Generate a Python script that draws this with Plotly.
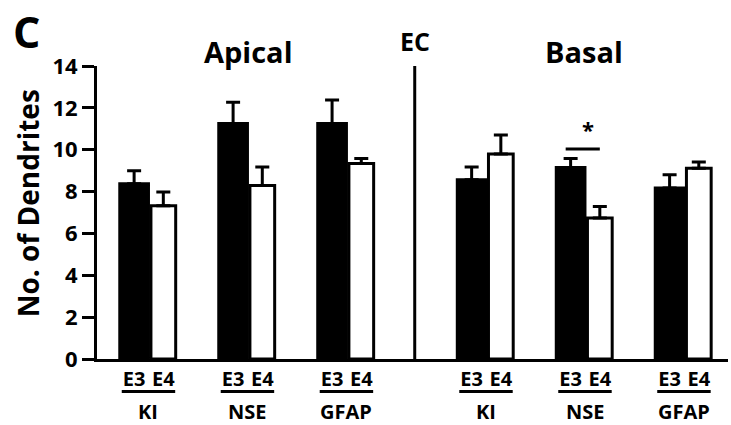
import plotly.graph_objects as go

# ---- data ----
regions = ["Apical", "Apical", "Apical", "Basal", "Basal", "Basal"]
groups = ["KI", "NSE", "GFAP", "KI", "NSE", "GFAP"]
e3_mean = [8.37, 11.25, 11.25, 8.56, 9.15, 8.17]
e3_sem = [0.63, 1.02, 1.13, 0.61, 0.43, 0.63]
e4_mean = [7.32, 8.29, 9.34, 9.80, 6.74, 9.12]
e4_sem = [0.66, 0.88, 0.24, 0.90, 0.55, 0.29]
tick_names = ["E3", "E4"]
y_ticks = [0, 2, 4, 6, 8, 10, 12, 14]
sig_group = 4  # NSE basal, E3 vs E4 significant

# ---- layout helpers ----
region_gap = 0.41
pos = [i + (region_gap if r == "Basal" else 0) for i, r in enumerate(regions)]
off3, off4 = -0.16, 0.135
x3 = [p + off3 for p in pos]
x4 = [p + off4 for p in pos]
divider_x = (pos[2] + pos[3]) / 2 - 0.03

FONT = "Open Sans"

fig = go.Figure()
fig.add_trace(go.Bar(
    x=x3, y=e3_mean, width=0.29, name="E3",
    marker=dict(color="black", line=dict(color="black", width=3)),
    error_y=dict(type="data", array=e3_sem, arrayminus=[0] * len(e3_sem),
                 symmetric=False, color="black", thickness=3, width=7),
))
fig.add_trace(go.Bar(
    x=x4, y=e4_mean, width=0.25, name="E4",
    marker=dict(color="white", line=dict(color="black", width=3)),
    error_y=dict(type="data", array=e4_sem, arrayminus=[0] * len(e4_sem),
                 symmetric=False, color="black", thickness=3, width=7),
))

tickvals, ticktext = [], []
for a, b in zip(x3, x4):
    tickvals += [a, b]
    ticktext += tick_names

shapes = []
annotations = []
# group underlines and names
for p, g in zip(pos, groups):
    shapes.append(dict(type="line", xref="x", yref="paper",
                       x0=p - 0.285, x1=p + 0.255, y0=-0.111, y1=-0.111,
                       line=dict(color="black", width=3)))
    annotations.append(dict(x=p - 0.015, y=-0.178, xref="x", yref="paper",
                            text=g, showarrow=False, xanchor="center", yanchor="middle",
                            font=dict(family=FONT, size=20, color="black", weight="bold")))
# divider
shapes.append(dict(type="line", xref="x", yref="y", x0=divider_x, x1=divider_x,
                   y0=0, y1=14, line=dict(color="black", width=3)))
# significance bar
sy = max(e3_mean[sig_group] + e3_sem[sig_group], e4_mean[sig_group] + e4_sem[sig_group]) + 0.46
shapes.append(dict(type="line", xref="x", yref="y",
                   x0=x3[sig_group] - 0.05, x1=x4[sig_group] + 0.0,
                   y0=sy, y1=sy, line=dict(color="black", width=3)))
annotations.append(dict(x=(x3[sig_group] + x4[sig_group]) / 2 + 0.03, y=sy + 0.15,
                        xref="x", yref="y", text="*", showarrow=False,
                        xanchor="center", yanchor="bottom",
                        font=dict(family=FONT, size=22, color="black", weight="bold")))

# region titles
apical_c = sum(pos[:3]) / 3
basal_c = sum(pos[3:]) / 3
annotations += [
    dict(x=apical_c, y=1.048, xref="x", yref="paper", text="Apical", showarrow=False,
         xanchor="center", yanchor="middle",
         font=dict(family=FONT, size=29, color="black", weight="bold")),
    dict(x=basal_c - 0.02, y=1.048, xref="x", yref="paper", text="Basal", showarrow=False,
         xanchor="center", yanchor="middle",
         font=dict(family=FONT, size=29, color="black", weight="bold")),
    dict(x=divider_x, y=1.085, xref="x", yref="paper", text="EC", showarrow=False,
         xanchor="center", yanchor="middle",
         font=dict(family=FONT, size=25, color="black", weight="bold")),
    dict(x=-0.111, y=1.221, xref="paper", yref="paper", text="C", showarrow=False,
         xanchor="center", yanchor="top", borderpad=0,
         font=dict(family=FONT, size=43, color="black", weight="bold")),
    dict(x=-0.108, y=0.531, xref="paper", yref="paper", text="No. of Dendrites",
         showarrow=False, textangle=-90, xanchor="center", yanchor="middle",
         font=dict(family=FONT, size=28, color="black", weight="bold")),
]

fig.update_layout(
    width=731, height=425,
    margin=dict(l=97, r=3, t=66, b=66),
    plot_bgcolor="white", paper_bgcolor="white",
    barmode="overlay", showlegend=False,
    shapes=shapes, annotations=annotations,
    font=dict(family=FONT, color="black"),
)
fig.update_xaxes(
    range=[-0.535, 5.84], showgrid=False, zeroline=False,
    showline=True, linewidth=3, linecolor="black",
    tickvals=tickvals, ticktext=ticktext, ticks="",
    tickfont=dict(family=FONT, size=20, color="black", weight="bold"),
)
fig.update_yaxes(
    range=[0, 14], showgrid=False, zeroline=False,
    showline=True, linewidth=3, linecolor="black",
    tickvals=y_ticks, ticks="outside", ticklen=12, tickwidth=3, tickcolor="black",
    tickfont=dict(family=FONT, size=22, color="black", weight="bold"),
)

fig.write_html("out.html", config={"displayModeBar": False},
               post_script="document.body.style.margin='0';document.body.style.overflow='hidden';")
